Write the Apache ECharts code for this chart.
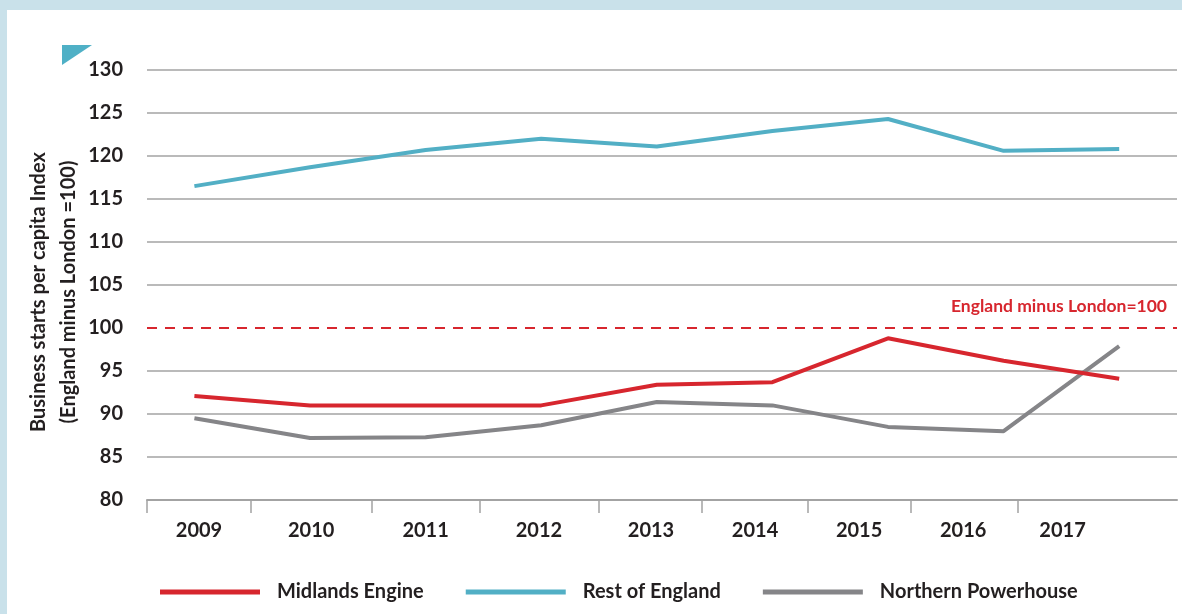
<!DOCTYPE html>
<html>
<head>
<meta charset="utf-8">
<script src="https://cdn.jsdelivr.net/npm/echarts@6/dist/echarts.min.js"></script>
<style>
  html, body { margin: 0; padding: 0; background: #ffffff; }
  #chart { width: 1182px; height: 614px; }
</style>
</head>
<body>
<div id="chart"></div>
<script>
// ---- data ----
const years = ['2009', '2010', '2011', '2012', '2013', '2014', '2015', '2016', '2017'];
const midlandsEngine = [92.1, 91.0, 91.0, 91.0, 93.4, 93.7, 98.8, 96.2, 94.1];
const restOfEngland = [116.5, 118.7, 120.7, 122.0, 121.1, 122.9, 124.3, 120.6, 120.8];
const northernPowerhouse = [89.5, 87.2, 87.3, 88.7, 91.4, 91.0, 88.5, 88.0, 97.9];
const seriesNames = ['Midlands Engine', 'Rest of England', 'Northern Powerhouse'];
const referenceValue = 100;
const referenceLabel = 'England minus London=100';
const yAxisTitle = 'Business starts per capita Index\n(England minus London =100)';

// ---- layout of the x axis as drawn in the source (label / tick positions in index units) ----
const xLabelPos = [0.04, 1.01, 2.0, 2.98, 3.95, 4.85, 5.75, 6.65, 7.51];
const xTickPos = [-0.41, 0.49, 1.53, 2.47, 3.50, 4.39, 5.31, 6.20, 7.12];

const toPairs = arr => arr.map((v, i) => [i, v]);

const FONT = 'Lato, "Open Sans", sans-serif';
const TXT = '#231f20';
const GRID = '#a3a3a3';

// split line colours: the line at value 100 is hidden under the reference line
const splitColors = [];
for (let v = 80; v <= 130; v += 5) splitColors.push(v === referenceValue ? 'rgba(0,0,0,0)' : GRID);

const chart = echarts.init(document.getElementById('chart'), null, { renderer: 'canvas' });
chart.setOption({
  animation: false,
  backgroundColor: '#ffffff',
  textStyle: { fontFamily: FONT },
  graphic: [
    { type: 'rect', left: 0, top: 0, shape: { width: 1182, height: 10 }, style: { fill: '#c9e1ea' }, silent: true },
    { type: 'rect', left: 0, top: 0, shape: { width: 7, height: 614 }, style: { fill: '#c9e1ea' }, silent: true },
    { type: 'polygon', shape: { points: [[62, 45], [92, 45], [62, 65]] }, style: { fill: '#4fb0c6' }, silent: true },
    {
      type: 'text', x: 54, y: 292, rotation: Math.PI / 2, silent: true,
      style: {
        text: yAxisTitle, align: 'center', verticalAlign: 'middle',
        fontFamily: FONT, fontSize: 20, fontWeight: 'bold', fill: TXT, lineHeight: 30
      }
    }
  ],
  grid: { left: 147, right: 5, top: 70, bottom: 114, containLabel: false },
  legend: {
    data: seriesNames,
    left: 160,
    top: 582,
    padding: 0,
    icon: 'rect',
    itemWidth: 100,
    itemHeight: 5,
    itemGap: 42,
    textStyle: { fontFamily: FONT, fontSize: 20, fontWeight: 'bold', color: TXT, padding: [0, 0, 0, 12] }
  },
  xAxis: {
    type: 'value',
    min: -0.41,
    max: 8.5,
    splitLine: { show: false },
    axisLine: { show: true, onZero: false, lineStyle: { color: GRID, width: 2 } },
    axisTick: { show: true, length: 13, customValues: xTickPos, lineStyle: { color: GRID, width: 1.5 } },
    axisLabel: {
      show: true,
      customValues: xLabelPos,
      margin: 21,
      fontFamily: FONT, fontSize: 20, fontWeight: 'bold', color: TXT,
      formatter: v => {
        let best = 0;
        xLabelPos.forEach((p, i) => { if (Math.abs(p - v) < Math.abs(xLabelPos[best] - v)) best = i; });
        return years[best];
      }
    }
  },
  yAxis: {
    type: 'value',
    min: 80,
    max: 130,
    interval: 5,
    axisLine: { show: false },
    axisTick: { show: false },
    axisLabel: { margin: 24, fontFamily: FONT, fontSize: 20, fontWeight: 'bold', color: TXT },
    splitLine: { show: true, lineStyle: { color: splitColors, width: 1.5 } }
  },
  series: [
    {
      name: seriesNames[0], type: 'line', data: toPairs(midlandsEngine),
      symbol: 'none', lineStyle: { color: '#d7262e', width: 4 }, itemStyle: { color: '#d7262e' }, z: 4,
      markLine: {
        silent: true, symbol: 'none',
        lineStyle: { color: '#d7262e', type: [10, 8], width: 2 },
        label: {
          show: true, position: 'insideEndTop', formatter: referenceLabel,
          color: '#d7262e', fontFamily: FONT, fontSize: 17.5, fontWeight: 'bold', distance: [10, 13]
        },
        data: [{ yAxis: referenceValue }]
      }
    },
    {
      name: seriesNames[1], type: 'line', data: toPairs(restOfEngland),
      symbol: 'none', lineStyle: { color: '#52afc5', width: 4 }, itemStyle: { color: '#52afc5' }, z: 3
    },
    {
      name: seriesNames[2], type: 'line', data: toPairs(northernPowerhouse),
      symbol: 'none', lineStyle: { color: '#858588', width: 4 }, itemStyle: { color: '#858588' }, z: 3
    }
  ]
});
</script>
</body>
</html>
